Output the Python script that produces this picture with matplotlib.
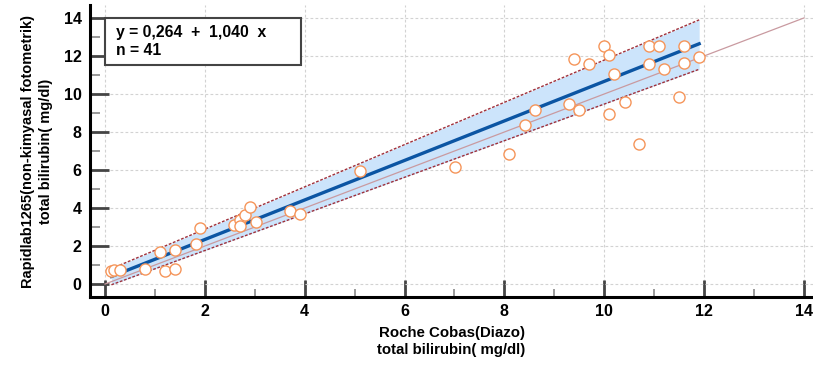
import numpy as np
import matplotlib
matplotlib.use("Agg")
import matplotlib.pyplot as plt
from matplotlib.patches import Rectangle

# ---- data ----
roche_x = [0.13, 0.19, 0.30, 0.80, 1.10, 1.40, 1.20, 1.40, 1.90, 1.82,
           2.59, 2.70, 2.71, 2.80, 2.90, 3.02, 3.70, 3.91, 5.11, 7.01,
           8.10, 8.41, 8.61, 9.30, 9.50, 9.40, 9.70, 10.00, 10.10, 10.19,
           10.10, 10.41, 10.70, 10.90, 11.10, 11.60, 10.90, 11.20, 11.60, 11.90,
           11.49]
rapid_y = [0.70, 0.74, 0.74, 0.78, 1.70, 1.81, 0.71, 0.77, 2.97, 2.09,
           3.12, 3.37, 3.03, 3.62, 4.05, 3.28, 3.86, 3.68, 5.96, 6.16,
           6.86, 8.35, 9.16, 9.47, 9.16, 11.82, 11.56, 12.54, 12.05, 11.05,
           8.96, 9.56, 7.35, 12.54, 12.54, 12.54, 11.56, 11.33, 11.63, 11.93,
           9.86]

intercept, slope = 0.264, 1.040
band_upper = (0.665, 1.112)   # intercept, slope of upper CI line
band_lower = (-0.161, 0.963)  # intercept, slope of lower CI line
n_points = 41

x_ticks = [0, 2, 4, 6, 8, 10, 12, 14]
y_ticks = [0, 2, 4, 6, 8, 10, 12, 14]

xlabel = "Roche Cobas(Diazo)\ntotal bilirubin( mg/dl)"
ylabel = "Rapidlab1265(non-kimyasal fotometrik)\ntotal bilirubin( mg/dl)"

# ---- plot ----
plt.rcParams['font.family'] = ['Liberation Sans', 'DejaVu Sans']
fig = plt.figure(figsize=(8.13, 3.67), dpi=100)
ax = fig.add_axes([90/813, 1-297/367, 1-90/813, (297-5)/367])

ax.set_xlim(-0.30, 14.18)
ax.set_ylim(-0.68, 14.68)

xs = np.array([min(roche_x), max(roche_x)])
up = band_upper[0] + band_upper[1]*xs
lo = band_lower[0] + band_lower[1]*xs
ax.fill_between(xs, lo, up, color='#cce4fb', zorder=2, lw=0)
ax.plot(xs, up, color='#a0303a', lw=1.0, ls=(0, (2.0, 1.2)), zorder=3)
ax.plot(xs, lo, color='#a0303a', lw=1.0, ls=(0, (2.0, 1.2)), zorder=3)

ax.plot([0, 14], [0, 14], color='#c99aa0', lw=0.9, zorder=3)
ax.plot(xs, intercept + slope*xs, color='#0b55a3', lw=2.4, zorder=4)

ax.scatter(roche_x, rapid_y, s=64, facecolors='white', edgecolors='#f5955a',
           linewidths=1.0, zorder=5)

ax.set_xticks(x_ticks)
ax.set_yticks(y_ticks)
ax.set_xticks(range(1, 15, 2), minor=True)
ax.set_yticks(range(1, 15, 2), minor=True)
ax.grid(True, which='major', color='#d2d2d2', ls=(0, (2.5, 2)), lw=0.8, zorder=0)
ax.set_axisbelow(True)

for s in ['top', 'right']:
    ax.spines[s].set_visible(False)
for s in ['left', 'bottom']:
    ax.spines[s].set_linewidth(2.2)
    ax.spines[s].set_color('black')

ax.tick_params(which='major', direction='in', length=14, width=2, color='#444444',
               labelsize=11.5, pad=6)
ax.tick_params(which='minor', direction='in', length=7, width=1.2, color='#888888')
ax.tick_params(axis='x', which='major', length=12, pad=5)
ax.tick_params(axis='x', which='minor', length=6)
for lab in ax.get_xticklabels() + ax.get_yticklabels():
    lab.set_fontweight('bold')

ax.set_xlabel(xlabel, fontsize=10.8, fontweight='bold', labelpad=5, linespacing=1.3)
ax.set_ylabel(ylabel, fontsize=10.5, fontweight='bold', labelpad=8, linespacing=1.3)

# legend box
ax.add_patch(Rectangle((0, 11.55), 3.93, 2.45, facecolor='white', edgecolor='#444444',
                       lw=1.5, zorder=6))
ax.text(0.23, 13.25, f"y = {intercept:.3f}  +  {slope:.3f}  x".replace('.', ','),
        fontsize=11.3, fontweight='bold', va='center', ha='left', zorder=7)
ax.text(0.23, 12.3, f"n = {n_points}", fontsize=11.3, fontweight='bold',
        va='center', ha='left', zorder=7)

fig.savefig('out.png', dpi=100)
